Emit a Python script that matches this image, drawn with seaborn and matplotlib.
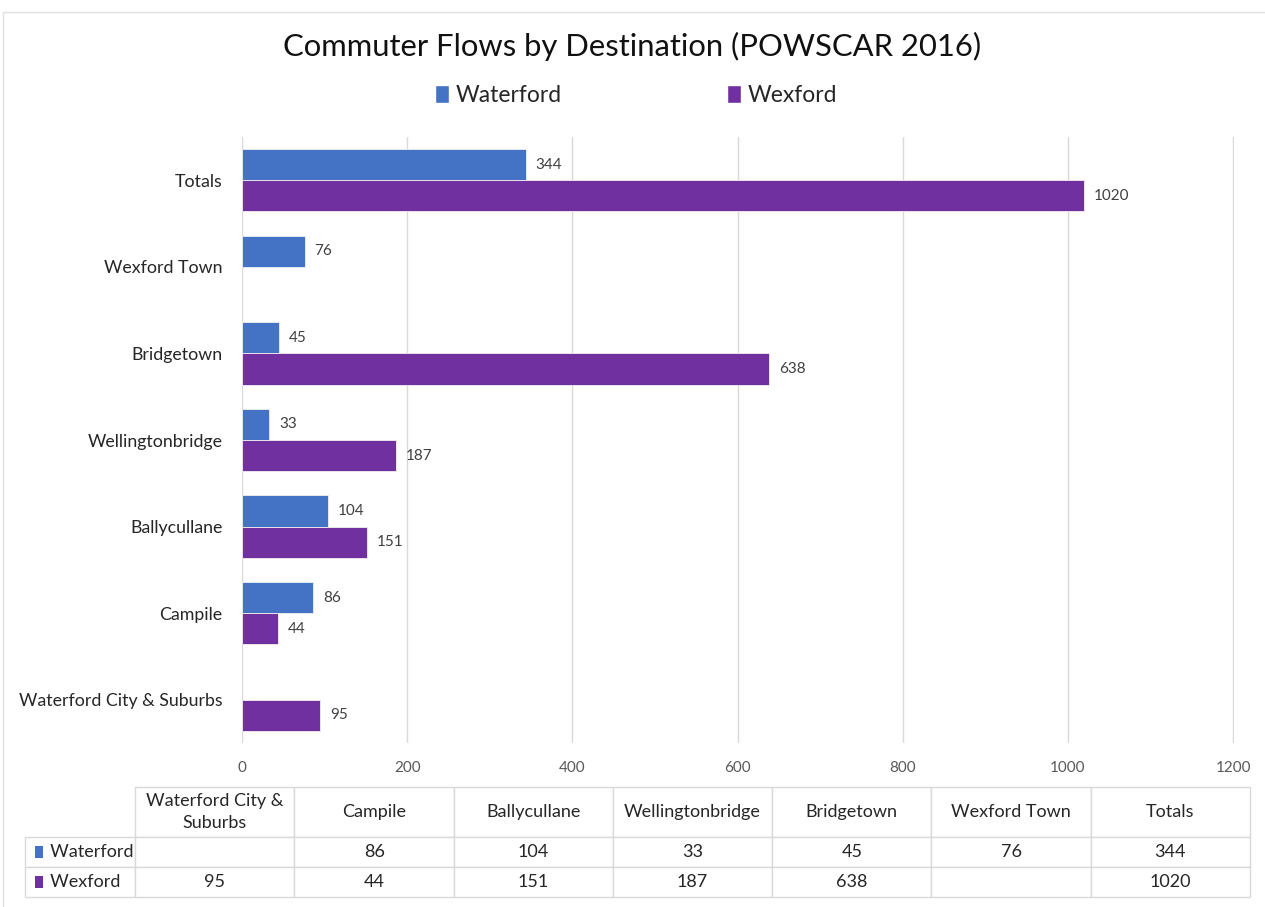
import matplotlib

matplotlib.use("Agg")

import matplotlib.pyplot as plt
import numpy as np
import pandas as pd
import seaborn as sns
from matplotlib.patches import Patch, Rectangle

# data, in the order of the data table (left to right)
destinations = ["Waterford City &\nSuburbs", "Campile", "Ballycullane", "Wellingtonbridge",
                "Bridgetown", "Wexford Town", "Totals"]
waterford = [np.nan, 86, 104, 33, 45, 76, 344]
wexford = [95, 44, 151, 187, 638, np.nan, 1020]
series = ["Waterford", "Wexford"]
colors = {"Waterford": "#4472C4", "Wexford": "#7030A0"}
x_ticks = [0, 200, 400, 600, 800, 1000, 1200]

sns.set_theme(style="white")
plt.rcParams["font.family"] = ["Lato", "DejaVu Sans"]

names = [d.replace("\n", " ") for d in destinations]
df = pd.DataFrame({
    "destination": names * 2,
    "county": ["Waterford"] * len(names) + ["Wexford"] * len(names),
    "flow": waterford + wexford,
})
plot_order = names[::-1]

fig = plt.figure(figsize=(12.65, 9.07), dpi=100)
ax = fig.add_axes([242 / 1265, 1 - 743 / 907, (1234 - 242) / 1265, (743 - 137) / 907])

sns.barplot(data=df, y="destination", x="flow", hue="county", order=plot_order,
            hue_order=series, palette=colors, orient="h", width=0.72,
            saturation=1, legend=False, ax=ax, edgecolor="#f0f0f0", linewidth=0.6)

for cont in ax.containers:
    ax.bar_label(cont, labels=["" if np.isnan(v) else f"{v:.0f}" for v in cont.datavalues],
                 padding=7, fontsize=11, color="#404040")

ax.set_xlim(0, 1201)
ax.set_xticks(x_ticks)
ax.set_ylim(6.5, -0.5)
ax.grid(axis="x", color="#d9d9d9", linewidth=1)
ax.set_axisbelow(True)
for s in ax.spines.values():
    s.set_visible(False)
ax.set_xlabel("")
ax.set_ylabel("")
ax.tick_params(axis="x", labelsize=11, labelcolor="#595959", pad=13, length=0)
ax.tick_params(axis="y", labelsize=12.8, labelcolor="#262626", pad=14, length=0)

fig.suptitle("Commuter Flows by Destination (POWSCAR 2016)", y=0.965, fontsize=22.3, color="#111111")

handles = [Patch(facecolor=colors[s], label=s) for s in series]
fig.legend(handles=handles, loc="center", bbox_to_anchor=(0.503, 0.895), ncol=2, frameon=False,
           fontsize=16.5, handlelength=0.6, handleheight=0.8, handletextpad=0.3, columnspacing=7.2)

# data table under the chart (first column holds the row labels)
tax = fig.add_axes([25 / 1265, 1 - 897 / 907, (1250 - 25) / 1265, (897 - 787) / 907])
tax.axis("off")
cell_text = [["     " + series[0]] + ["" if np.isnan(v) else f"{v:.0f}" for v in waterford],
             ["     " + series[1]] + ["" if np.isnan(v) else f"{v:.0f}" for v in wexford]]
tbl = tax.table(cellText=cell_text, colLabels=[""] + destinations,
                cellLoc="center", bbox=[0, 0, 1, 1])
tbl.auto_set_font_size(False)
for (r, c), cell in tbl.get_celld().items():
    cell.set_edgecolor("#d9d9d9")
    cell.set_linewidth(1)
    cell.get_text().set_fontsize(13)
    cell.get_text().set_color("#262626")
    cell.get_text().set_linespacing(1.45)
    cell.set_width(110 if c == 0 else 159)
    cell.set_height(50 if r == 0 else 30)
    if c == 0:
        cell.get_text().set_ha("left")
        cell.PAD = 0.02
    if r == 0 and c == 0:
        cell.visible_edges = ""

# colour keys for the table rows
for i, s in enumerate(series):
    yc = 1 - (50 + 30 * i + 15) / 110
    tax.add_patch(Rectangle((10 / 1225, yc - 6 / 110), 8 / 1225, 12 / 110,
                            facecolor=colors[s], edgecolor="none", transform=tax.transAxes))

# thin chart border
fig.add_artist(plt.Line2D([3 / 1265, 3 / 1265], [0, 1 - 12 / 907], color="#e0e0e0", lw=1))
fig.add_artist(plt.Line2D([3 / 1265, 1], [1 - 12 / 907, 1 - 12 / 907], color="#e0e0e0", lw=1))

fig.savefig("out.png", dpi=100)
